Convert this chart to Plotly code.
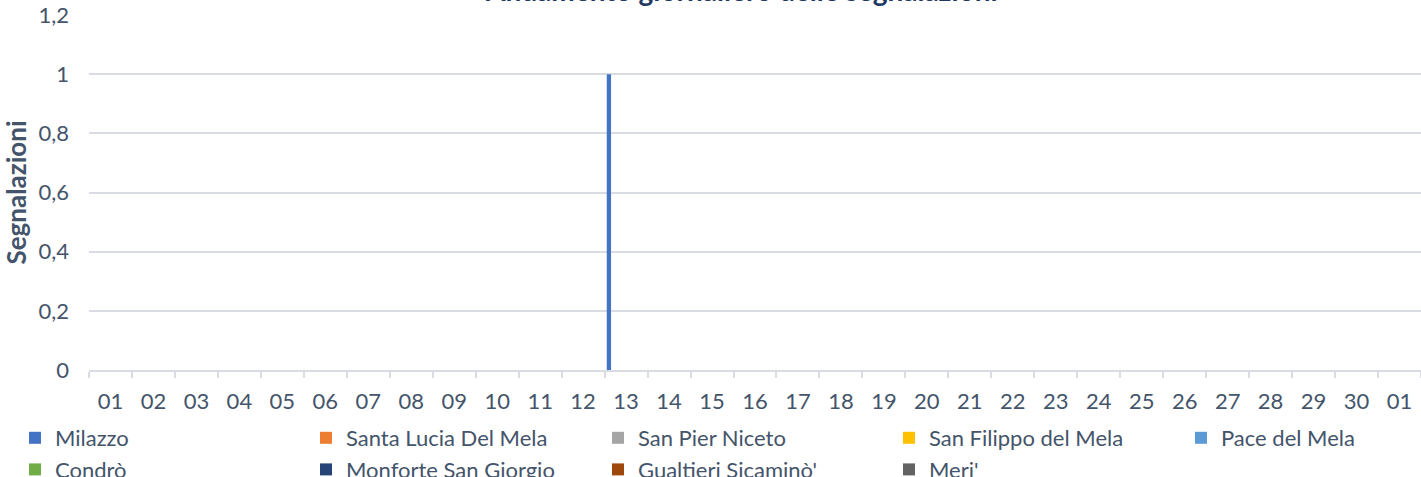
import plotly.graph_objects as go

# ---- data ----
dates = [f"{d:02d}/11" for d in range(1, 31)] + ["01/12"]
tick_labels = [d[:2] for d in dates]
series_names = ["Milazzo", "Santa Lucia Del Mela", "San Pier Niceto", "San Filippo del Mela",
                "Pace del Mela", "Condrò", "Monforte San Giorgio", "Gualtieri Sicaminò'", "Meri'"]
milazzo = [0]*12 + [1] + [0]*18
santa_lucia = [0]*31
san_pier = [0]*31
san_filippo = [0]*31
pace = [0]*31
condro = [0]*31
monforte = [0]*31
gualtieri = [0]*31
meri = [0]*31
values = [milazzo, santa_lucia, san_pier, san_filippo, pace, condro, monforte, gualtieri, meri]
colors = ["#4472C4", "#ED7D31", "#A5A5A5", "#FFC000", "#5B9BD5",
          "#70AD47", "#264478", "#9E480E", "#636363"]

TXT = "#44546A"
GRID = "#D9DDE3"
W, H = 1421, 477
ML, MR, MT, MB = 89, 0, 15, 107
PW, PH = W - ML - MR, H - MT - MB
FONT = "Lato, Carlito, sans-serif"
FS = 22

# legend columns (Excel-like 5-column legend in two rows)
legend_ids = ["legend", "legend2", "legend3", "legend4", "legend5"]
col_text_x = [54, 345, 637, 928, 1220]

fig = go.Figure()
for i, (name, vals, col) in enumerate(zip(series_names, values, colors)):
    fig.add_trace(go.Bar(x=dates, y=vals, name=name, marker_color=col, marker_line_width=0,
                         legend=legend_ids[i % 5]))

layout_legends = {}
for lid, tx in zip(legend_ids, col_text_x):
    layout_legends[lid] = dict(
        xref="paper", yref="paper",
        x=(tx - 39 - ML) / PW, xanchor="left",
        y=(H - MB - 417) / PH, yanchor="top",
        orientation="v", font=dict(family=FONT, size=FS, color=TXT),
        bgcolor="rgba(0,0,0,0)", tracegroupgap=0, itemwidth=30,
    )

fig.update_layout(
    width=W, height=H,
    margin=dict(l=ML, r=MR, t=MT, b=MB, autoexpand=False),
    paper_bgcolor="white", plot_bgcolor="white",
    barmode="group", bargap=0.1, bargroupgap=0,
    separators=",.",
    font=dict(family=FONT, size=FS, color=TXT),
    showlegend=True,
    **layout_legends,
)
fig.add_annotation(text="<b>Andamento giornaliero delle segnalazioni</b>", xref="paper", yref="paper",
                   x=0.49, y=1, yanchor="bottom", yshift=6, showarrow=False,
                   font=dict(family=FONT, size=28, color="#1F3864"))
fig.update_xaxes(type="category", tickmode="array", tickvals=dates, ticktext=tick_labels,
                 tickson="boundaries", ticks="outside", ticklen=6, tickcolor=GRID, tickwidth=2,
                 showline=True, linecolor=GRID, linewidth=2, showgrid=False, automargin=False,
                 ticklabelstandoff=11, tickfont=dict(family=FONT, size=FS, color=TXT))
fig.update_yaxes(range=[0, 1.2], tickvals=[0, 0.2, 0.4, 0.6, 0.8, 1.0, 1.2],
                 showgrid=True, gridcolor=GRID, gridwidth=2, zeroline=False, automargin=False,
                 ticklabelstandoff=19, tickfont=dict(family=FONT, size=FS, color=TXT),
                 title=dict(text="<b>Segnalazioni</b>", font=dict(family=FONT, size=26, color=TXT),
                            standoff=4))

fig.write_html("out.html", config={"displayModeBar": False},
               post_script="document.body.style.margin='0';")
